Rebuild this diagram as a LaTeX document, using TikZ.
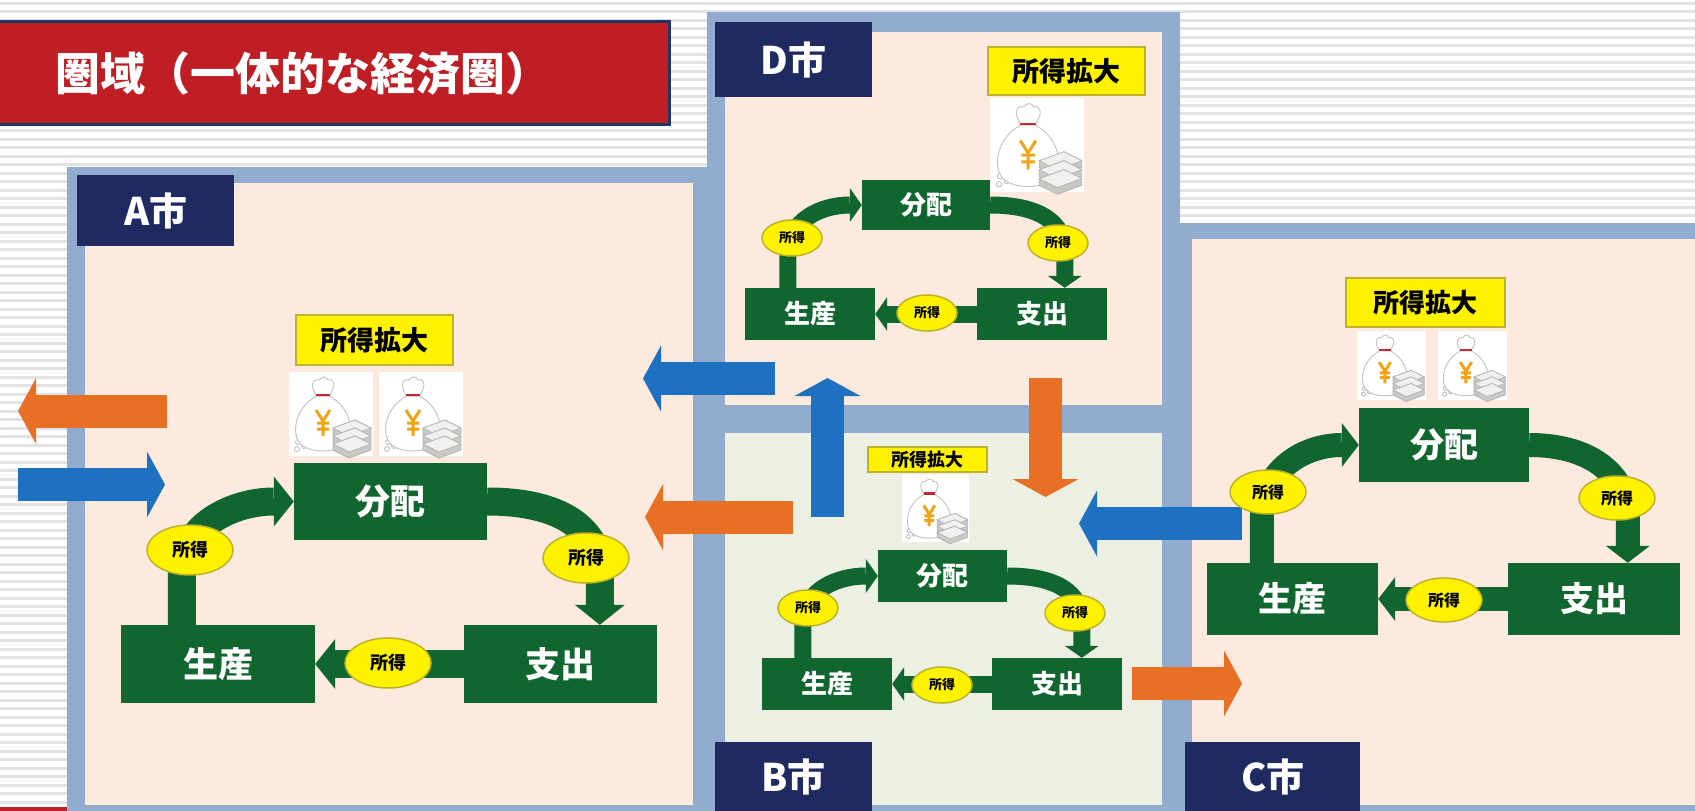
\documentclass[tikz,border=0pt]{standalone}
\usepackage{fontspec}
\setmainfont{Noto Sans CJK JP}
\usetikzlibrary{arrows.meta,shapes.geometric}

\definecolor{framegray}{RGB}{145,172,207}
\definecolor{peach}{RGB}{251,234,221}
\definecolor{mint}{RGB}{235,240,226}
\definecolor{navy}{RGB}{31,42,96}
\definecolor{titlered}{RGB}{190,30,36}
\definecolor{titleedge}{RGB}{31,54,100}
\definecolor{boxgreen}{RGB}{17,102,48}
\definecolor{tagyellow}{RGB}{255,242,0}
\definecolor{tagedge}{RGB}{190,178,40}
\definecolor{flowblue}{RGB}{30,112,192}
\definecolor{floworange}{RGB}{232,112,36}
\definecolor{stripegray}{RGB}{226,226,230}
\definecolor{yencol}{RGB}{242,165,20}
\definecolor{tiered}{RGB}{200,40,50}
\definecolor{notegray}{RGB}{200,200,196}

\tikzset{
  jpfont/.style={font={\fontsize{#1pt}{#1pt}\selectfont\bfseries}},
  stripe/.style={draw=stripegray, line width=3pt},
  citytag/.style={fill=navy, text=white, inner sep=0pt, anchor=north west, jpfont=38},
  gbox/.style={fill=boxgreen, text=white, inner sep=0pt, jpfont=#1},
  gaintag/.style={fill=tagyellow, draw=tagedge, line width=1.5pt, text=black, inner sep=0pt, jpfont=#1},
  income/.style={ellipse, fill=tagyellow, draw=tagedge, line width=1.5pt, text=black, inner sep=0pt, jpfont=#1},
  garrow/.style n args={3}{draw=boxgreen, line width=#1pt,
    -{Triangle[width=#2pt,length=#3pt,line width=0pt]}},
  bigarrow/.style={line width=33pt, -{Triangle[width=66pt,length=18pt,line width=0pt]}},
  moneybag/.pic={
    \fill[white] (0,0) rectangle (84,84);
    % small coins
    \foreach \cx/\cy in {9/70,15/74,8/77,20/72}
      \draw[gray!55, line width=0.8pt] (\cx,\cy) circle[radius=2.5];
    % bag body and knot
    \filldraw[fill=white, draw=gray!45, line width=1pt]
      (28,24) .. controls (8,34) and (2,58) .. (10,70)
      .. controls (18,82) and (50,82) .. (58,70)
      .. controls (66,58) and (60,34) .. (40,24) -- cycle;
    \filldraw[fill=white, draw=gray!45, line width=1pt]
      (28,24) .. controls (20,14) and (24,6) .. (30,8)
      .. controls (33,4) and (37,4) .. (39,8)
      .. controls (45,6) and (48,14) .. (40,24) -- cycle;
    \draw[tiered, line width=2.5pt] (27,23) -- (41,23);
    % yen sign
    \draw[yencol, line width=3pt] (27,38) -- (34,49) -- (41,38)
      (34,49) -- (34,64) (28,51) -- (40,51) (28,57) -- (40,57);
    % stack of banknote bundles
    \foreach \dy in {0,8,16} {
      \filldraw[fill=notegray, draw=gray!60, line width=0.7pt]
        (44,56+\dy) -- (66,48+\dy) -- (82,56+\dy) -- (82,62+\dy)
        -- (60,70+\dy) -- (44,62+\dy) -- cycle;
      \filldraw[fill=gray!12, draw=gray!60, line width=0.7pt]
        (44,56+\dy) -- (66,48+\dy) -- (82,56+\dy) -- (60,64+\dy) -- cycle;
    }
  }
}

\begin{document}
\begin{tikzpicture}[x=1pt,y=-1pt]
\useasboundingbox (0,0) rectangle (1695,811);

% striped backdrop
\fill[white] (0,0) rectangle (1695,811);
\foreach \y in {3,11.5,...,811}
  \draw[stripe] (0,\y) -- (1695,\y);
\fill[titlered] (0,807) rectangle (67,811);

% city frames and fields
\fill[framegray] (67,167) rectangle (725,811);
\fill[framegray] (707,12) rectangle (1180,433);
\fill[framegray] (707,403) rectangle (1192,811);
\fill[framegray] (1162,223) rectangle (1695,811);
\fill[peach] (85,183) rectangle (693,805);
\fill[peach] (725,32) rectangle (1162,405);
\fill[mint] (725,433) rectangle (1162,805);
\fill[peach] (1192,239) rectangle (1695,805);

% heading
\node[fill=titlered, draw=titleedge, line width=3pt, text=white, jpfont=45,
      anchor=north west, text width=550pt, inner xsep=64pt, inner ysep=0pt,
      minimum height=103pt, align=left] (title) at (-10,20) {圏域（一体的な経済圏）};

% city name plates
\node[citytag, minimum width=157pt, minimum height=71pt] (atag) at (77,175) {A市};
\node[citytag, minimum width=157pt, minimum height=75pt] (dtag) at (715,22) {D市};
\node[citytag, minimum width=157pt, minimum height=69pt] (btag) at (715,742) {B市};
\node[citytag, minimum width=175pt, minimum height=69pt] (ctag) at (1185,742) {C市};

% flows between cities
\coordinate (o1s) at (167,411);    \coordinate (o1e) at (18,411);
\coordinate (b1s) at (18,484.5);   \coordinate (b1e) at (165,484.5);
\coordinate (b2s) at (775,378.5);  \coordinate (b2e) at (643,378.5);
\coordinate (b3s) at (827.5,517);  \coordinate (b3e) at (827.5,378);
\coordinate (o2s) at (1045.5,378); \coordinate (o2e) at (1045.5,497);
\coordinate (o3s) at (793,517);    \coordinate (o3e) at (645,517);
\coordinate (b4s) at (1242,523.5); \coordinate (b4e) at (1079,523.5);
\coordinate (o4s) at (1132,683.5); \coordinate (o4e) at (1242,683.5);
\draw[bigarrow, draw=floworange] (o1s) -- (o1e);
\draw[bigarrow, draw=flowblue] (b1s) -- (b1e);
\draw[bigarrow, draw=flowblue] (b2s) -- (b2e);
\draw[bigarrow, draw=flowblue] (b3s) -- (b3e);
\draw[bigarrow, draw=floworange] (o2s) -- (o2e);
\draw[bigarrow, draw=floworange] (o3s) -- (o3e);
\draw[bigarrow, draw=flowblue] (b4s) -- (b4e);
\draw[bigarrow, draw=floworange] (o4s) -- (o4e);

% ---------- A city ----------
\node[gaintag=27, minimum width=157pt, minimum height=50pt] (again) at (374.5,340) {所得拡大};
\pic at (289,372) {moneybag};
\pic at (379,372) {moneybag};
\node[gbox=35, minimum width=193pt, minimum height=77pt] (adist) at (390.5,501.5) {分配};
\node[gbox=35, minimum width=194pt, minimum height=78pt] (aprod) at (218,664) {生産};
\node[gbox=35, minimum width=193pt, minimum height=78pt] (aspend) at (560.5,664) {支出};
\draw[garrow={28}{50}{20}] ([xshift=61pt]aprod.north west) -- ++(0,-50)
  .. controls +(0,-50) and +(-60,0) .. (adist.west);
\draw[garrow={28}{50}{20}] (adist.east) .. controls +(75,0) and +(0,-45) ..
  ([xshift=136pt,yshift=50pt]aspend.north west) -- ([xshift=136pt]aspend.north west);
\draw[garrow={28}{50}{20}] (aspend.west) -- (aprod.east);
\node[income=18, minimum width=86pt, minimum height=50pt] (ai1) at (190,550) {所得};
\node[income=18, minimum width=86pt, minimum height=50pt] (ai2) at (586,558) {所得};
\node[income=18, minimum width=86pt, minimum height=50pt] (ai3) at (388,663) {所得};

% ---------- D city ----------
\node[gaintag=27, minimum width=157pt, minimum height=48pt] (dgain) at (1066.5,71) {所得拡大};
\pic[scale=1.12] at (990,98) {moneybag};
\node[gbox=26, minimum width=128pt, minimum height=50pt] (ddist) at (926,205) {分配};
\node[gbox=26, minimum width=130pt, minimum height=52pt] (dprod) at (810,314) {生産};
\node[gbox=26, minimum width=130pt, minimum height=52pt] (dspend) at (1042,314) {支出};
\draw[garrow={17}{34}{12}] ([xshift=43pt]dprod.north west) -- ++(0,-33)
  .. controls +(0,-35) and +(-40,0) .. (ddist.west);
\draw[garrow={17}{34}{12}] (ddist.east) .. controls +(50,0) and +(0,-30) ..
  ([xshift=88pt,yshift=35pt]dspend.north west) -- ([xshift=88pt]dspend.north west);
\draw[garrow={17}{34}{12}] (dspend.west) -- (dprod.east);
\node[income=13, minimum width=60pt, minimum height=36pt] (di1) at (792,238) {所得};
\node[income=13, minimum width=60pt, minimum height=36pt] (di2) at (1058,243) {所得};
\node[income=13, minimum width=60pt, minimum height=36pt] (di3) at (927,313) {所得};

% ---------- B city ----------
\node[gaintag=18, minimum width=119pt, minimum height=25pt] (bgain) at (927.5,459.5) {所得拡大};
\pic[scale=0.8] at (902,475) {moneybag};
\node[gbox=26, minimum width=129pt, minimum height=52pt] (bdist) at (942.5,576) {分配};
\node[gbox=26, minimum width=130pt, minimum height=52pt] (bprod) at (827,684) {生産};
\node[gbox=26, minimum width=130pt, minimum height=52pt] (bspend) at (1057,684) {支出};
\draw[garrow={17}{34}{12}] ([xshift=41pt]bprod.north west) -- ++(0,-33)
  .. controls +(0,-35) and +(-40,0) .. (bdist.west);
\draw[garrow={17}{34}{12}] (bdist.east) .. controls +(50,0) and +(0,-30) ..
  ([xshift=90pt,yshift=35pt]bspend.north west) -- ([xshift=90pt]bspend.north west);
\draw[garrow={17}{34}{12}] (bspend.west) -- (bprod.east);
\node[income=13, minimum width=60pt, minimum height=36pt] (bi1) at (808,608) {所得};
\node[income=13, minimum width=60pt, minimum height=36pt] (bi2) at (1075,613) {所得};
\node[income=13, minimum width=60pt, minimum height=36pt] (bi3) at (942,685) {所得};

% ---------- C city ----------
\node[gaintag=26, minimum width=159pt, minimum height=49pt] (cgain) at (1425.5,302.5) {所得拡大};
\pic[scale=0.82] at (1357,331) {moneybag};
\pic[scale=0.82] at (1438,331) {moneybag};
\node[gbox=34, minimum width=170pt, minimum height=74pt] (cdist) at (1444,445) {分配};
\node[gbox=34, minimum width=171pt, minimum height=72pt] (cprod) at (1292.5,599) {生産};
\node[gbox=34, minimum width=172pt, minimum height=72pt] (cspend) at (1594,599) {支出};
\draw[garrow={24}{44}{17}] ([xshift=55pt]cprod.north west) -- ++(0,-43)
  .. controls +(0,-50) and +(-55,0) .. (cdist.west);
\draw[garrow={24}{44}{17}] (cdist.east) .. controls +(65,0) and +(0,-40) ..
  ([xshift=120pt,yshift=45pt]cspend.north west) -- ([xshift=120pt]cspend.north west);
\draw[garrow={24}{44}{17}] (cspend.west) -- (cprod.east);
\node[income=16, minimum width=76pt, minimum height=44pt] (ci1) at (1268,492) {所得};
\node[income=16, minimum width=76pt, minimum height=44pt] (ci2) at (1617,498) {所得};
\node[income=16, minimum width=76pt, minimum height=44pt] (ci3) at (1444,600) {所得};
\end{tikzpicture}
\end{document}
